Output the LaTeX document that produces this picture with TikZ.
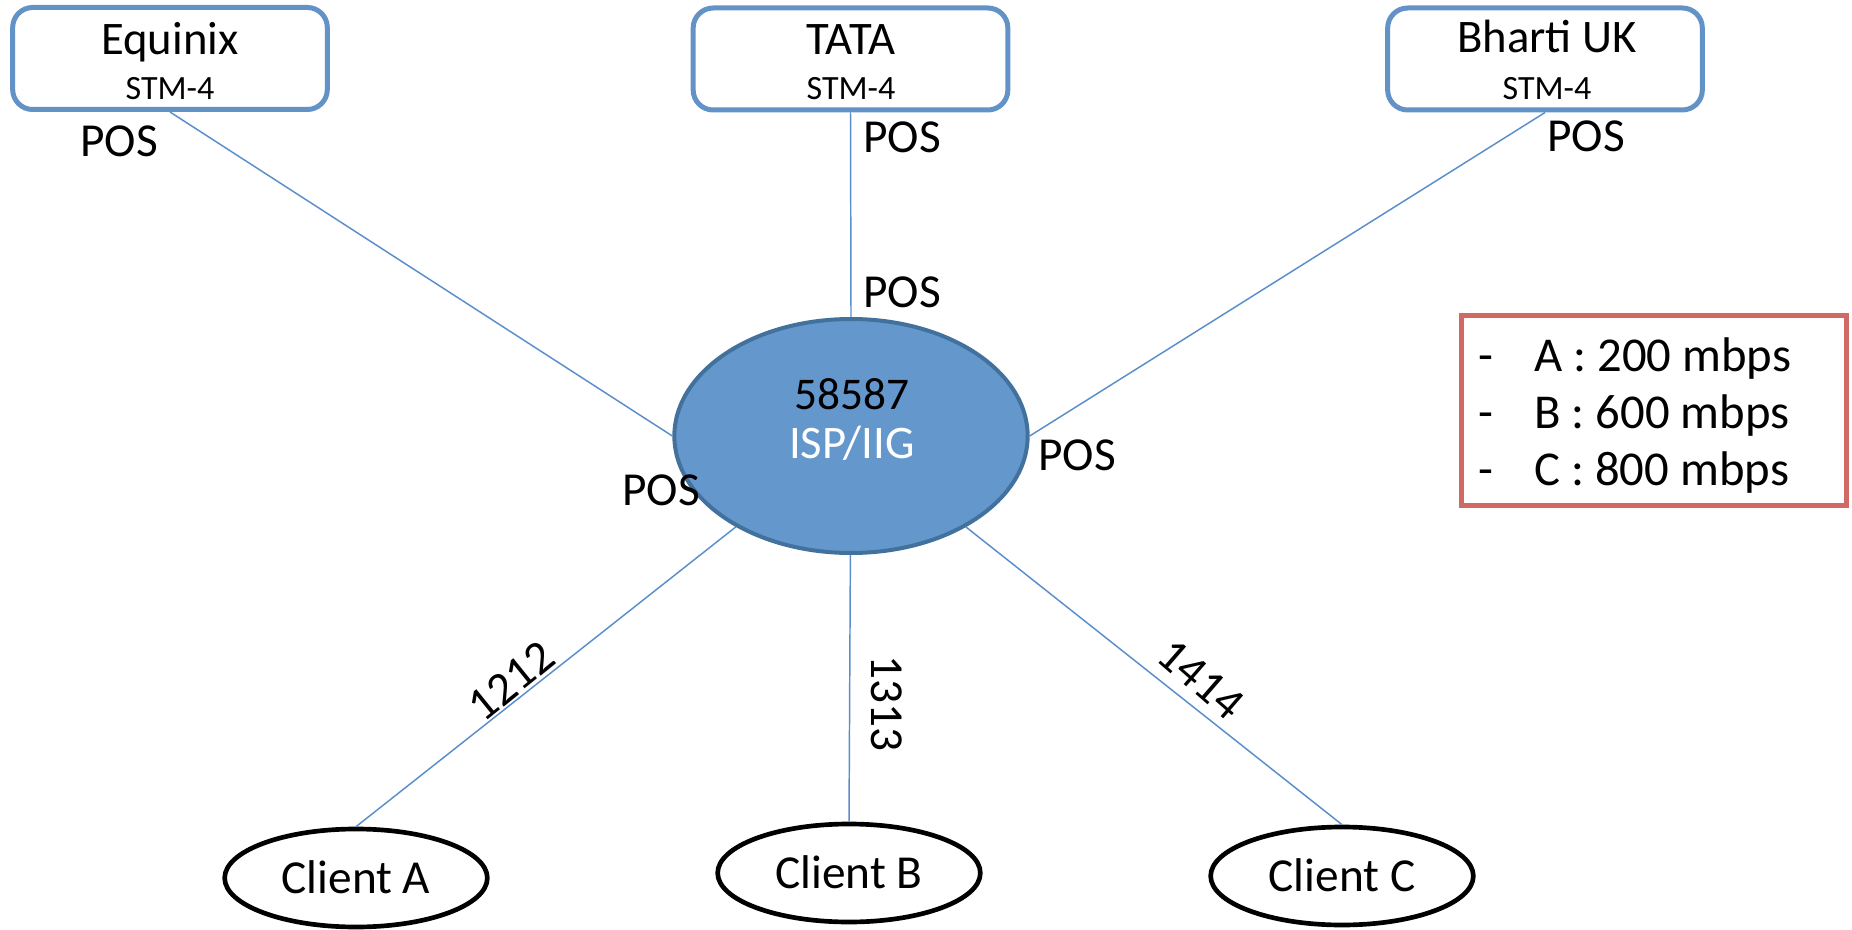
\documentclass[tikz,border=0pt]{standalone}
\usepackage{fontspec}
\setmainfont{Carlito}
\usetikzlibrary{shapes.geometric}
\definecolor{boxblue}{HTML}{6393C6}
\definecolor{linkblue}{HTML}{5A8DCB}
\definecolor{ispfill}{HTML}{6497CC}
\definecolor{ispdraw}{HTML}{41719C}
\definecolor{legred}{HTML}{D06A64}
\newcommand\fbig{\fontsize{35}{42}\selectfont}
\newcommand\fsml{\fontsize{25.5}{30}\selectfont}
\newcommand\fmid{\fontsize{35.5}{42}\selectfont}
\newcommand\fleg{\fontsize{36.5}{42}\selectfont}
\begin{document}
\begin{tikzpicture}[x=0.75pt,y=-0.75pt,
  provider/.style={draw=boxblue, line width=3.75pt, rounded corners=15pt, minimum width=236pt, minimum height=76.5pt, inner sep=0pt},
  link/.style={draw=linkblue, line width=1.1pt},
  client/.style={ellipse, draw=black, line width=3.5pt, minimum width=197pt, minimum height=73.5pt, inner sep=0pt},
  txt/.style={anchor=base, inner sep=0pt, font=\fmid},
  rot/.style={anchor=center, inner sep=0pt, font=\fmid},
  legtxt/.style={anchor=base west, inner sep=0pt, font=\fleg},
]
\useasboundingbox (0,0) rectangle (1852,930);

% providers
\node[provider] (eq) at (170,58.5) {};
\node[provider] (tata) at (850.5,59) {};
\node[provider] (bh) at (1545,59) {};
\node[anchor=base, inner sep=0pt, font=\fbig] (eqt) at (170,55) {Equinix};
\node[anchor=base, inner sep=0pt, font=\fsml] (eqs) at (170,100) {STM-4};
\node[anchor=base, inner sep=0pt, font=\fbig] (tatat) at (851,55) {TATA};
\node[anchor=base, inner sep=0pt, font=\fsml] (tatas) at (851,100) {STM-4};
\node[anchor=base, inner sep=0pt, font=\fbig] (bht) at (1547,53) {Bharti UK};
\node[anchor=base, inner sep=0pt, font=\fsml] (bhs) at (1547,100) {STM-4};

% core
\node[ellipse, draw=ispdraw, fill=ispfill, line width=3pt, minimum width=265pt, minimum height=175.5pt, inner sep=0pt] (isp) at (851,436) {};
\node[anchor=base, inner sep=0pt, font=\fontsize{34}{40}\selectfont] (asn) at (852,410) {58587};
\node[anchor=base, inner sep=0pt, font=\fbig, text=white] (ispt) at (852,458) {ISP/IIG};

% clients
\node[client] (ca) at (356,878) {};
\node[client] (cb) at (849,873) {};
\node[client] (cc) at (1342,876) {};
\node[txt] (cat) at (356,893) {Client A};
\node[txt] (cbt) at (849,888) {Client B};
\node[txt] (cct) at (1342,891) {Client C};

% links
\draw[link] (eq.south) -- (isp.west);
\draw[link] (tata.south) -- (isp.north);
\draw[link] (bh.south) -- (isp.east);
\draw[link] (isp) -- (ca.north);
\draw[link] (isp) -- (cb.north);
\draw[link] (isp) -- (cc.north);

% POS labels
\node[txt] (p1) at (119,157) {POS};
\node[txt] (p2) at (902,153) {POS};
\node[txt] (p3) at (902,308) {POS};
\node[txt] (p4) at (1586,152) {POS};
\node[txt] (p5) at (1077,470) {POS};
\node[txt] (p6) at (661,505) {POS};

% AS labels
\node[rot, rotate=39] (l1) at (511,681) {1212};
\node[rot, rotate=-90] (l2) at (887,703) {1313};
\node[rot, rotate=-41] (l3) at (1201,679) {1414};

% legend
\node[draw=legred, line width=3.75pt, minimum width=288.75pt, minimum height=142.5pt, inner sep=0pt] (lg) at (1654,410.5) {};
\node[legtxt] (d1) at (1478,372) {-};
\node[legtxt] (d2) at (1478,428) {-};
\node[legtxt] (d3) at (1478,485) {-};
\node[legtxt] (t1) at (1534,372) {A : 200 mbps};
\node[legtxt] (t2) at (1534,428) {B : 600 mbps};
\node[legtxt] (t3) at (1534,485) {C : 800 mbps};
\end{tikzpicture}
\end{document}
